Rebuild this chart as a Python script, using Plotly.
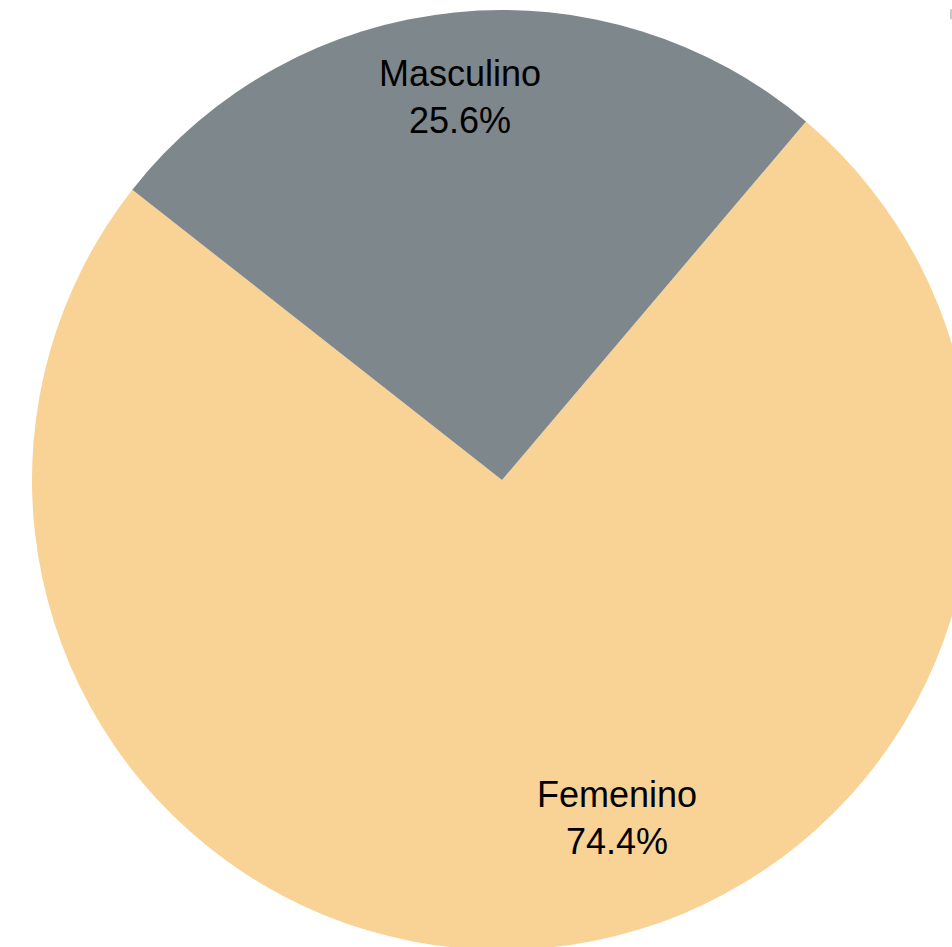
import plotly.graph_objects as go

labels = ["Femenino", "Masculino"]
values = [74.4, 25.6]
colors = ["#F8D395", "#7E878C"]
# label anchor positions (paper coords) for each slice's text
label_x = [0.6145, 0.458]
label_y = [0.1404, 0.9074]

total = sum(values)

fig = go.Figure(go.Pie(
    labels=labels,
    values=values,
    sort=False,
    direction="clockwise",
    rotation=40.3,
    marker=dict(colors=colors, line=dict(width=0)),
    textinfo="none",
    showlegend=False,
    hoverinfo="label+percent",
))

for lab, val, x, y in zip(labels, values, label_x, label_y):
    fig.add_annotation(
        x=x, y=y, xref="paper", yref="paper",
        xanchor="center", yanchor="middle",
        text=f"{lab}<br>{val / total * 100:.1f}%",
        showarrow=False,
        font=dict(family="Liberation Sans, Arial, sans-serif", size=36, color="black"),
    )

fig.update_layout(
    width=1004, height=960,
    autosize=False,
    margin=dict(l=0, r=0, t=10, b=10),
    paper_bgcolor="white",
)
fig.write_html(
    "out.html",
    post_script="document.body.style.margin='0';document.body.style.overflow='hidden';",
)
